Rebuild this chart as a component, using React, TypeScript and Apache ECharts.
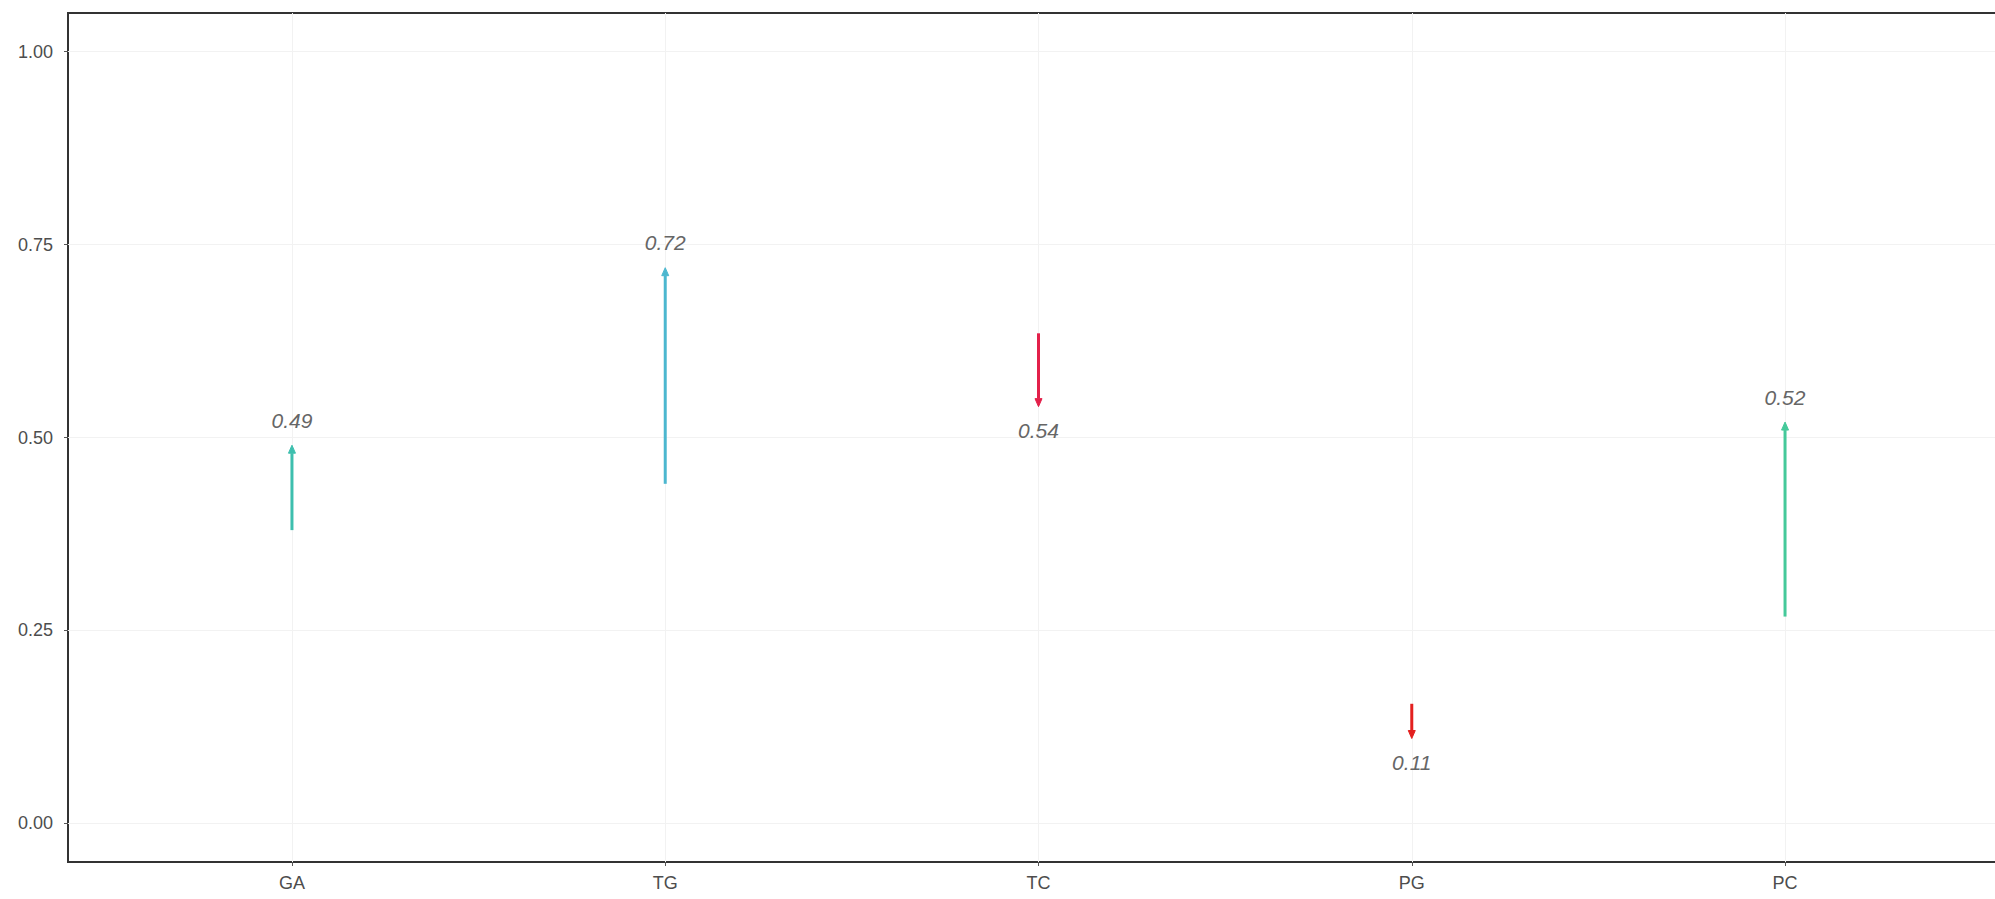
import React, { useEffect, useRef } from "react";
import * as echarts from "echarts";

const categories = ["GA", "TG", "TC", "PG", "PC"];
const startValues = [0.38, 0.44, 0.635, 0.155, 0.268];
const endValues = [0.49, 0.72, 0.54, 0.11, 0.52];
const arrowColors = ["#3dbfae", "#4cb7cf", "#e3204a", "#e3201f", "#45c99a"];
const yTicks = [0, 0.25, 0.5, 0.75, 1.0];
const xTicks = [1, 2, 3, 4, 5];

export default function App() {
  const ref = useRef<HTMLDivElement>(null);
  useEffect(() => {
    if (!ref.current) return;
    const chart = echarts.init(ref.current, undefined, { renderer: "svg" });
    const data = categories.map((c, i) => [i + 1, startValues[i], endValues[i], i]);
    chart.setOption({
      animation: false,
      backgroundColor: "#ffffff",
      grid: {
        left: 68,
        top: 13,
        bottom: 37,
        right: 0,
        show: true,
        borderColor: "#333333",
        borderWidth: 2,
        backgroundColor: "transparent",
      },
      xAxis: {
        type: "value",
        min: 0.4,
        max: 5.6,
        axisLine: { show: false, onZero: false },
        axisTick: { show: true, customValues: xTicks, length: 4, lineStyle: { color: "#555", width: 1 } },
        axisLabel: {
          customValues: xTicks,
          formatter: (v: number) => categories[Math.round(v) - 1] ?? "",
          color: "#4d4d4d",
          fontSize: 18,
          fontFamily: "Liberation Sans, Arial, sans-serif",
          margin: 12,
        },
        splitLine: { show: true, lineStyle: { color: "#f2f2f2", width: 1 } },
      },
      yAxis: {
        type: "value",
        min: -0.05,
        max: 1.05,
        axisLine: { show: false, onZero: false },
        axisTick: { show: true, customValues: yTicks, length: 4, lineStyle: { color: "#555", width: 1 } },
        axisLabel: {
          customValues: yTicks,
          formatter: (v: number) => v.toFixed(2),
          color: "#4d4d4d",
          fontSize: 18,
          fontFamily: "Liberation Sans, Arial, sans-serif",
          margin: 15,
        },
        splitLine: { show: true, lineStyle: { color: "#f2f2f2", width: 1 } },
      },
      series: [
        {
          type: "custom",
          coordinateSystem: "cartesian2d",
          data,
          encode: { x: 0, y: [1, 2] },
          renderItem: (params: any, api: any) => {
            const x = api.value(0);
            const s = api.value(1);
            const e = api.value(2);
            const idx = api.value(3);
            const color = arrowColors[idx];
            const p0 = api.coord([x, s]);
            const p1 = api.coord([x, e]);
            const up = e > s;
            const head = 8;
            const hw = 3.5;
            const baseY = up ? p1[1] + head : p1[1] - head;
            const labelY = up ? p1[1] - 25 : p1[1] + 24;
            return {
              type: "group",
              children: [
                {
                  type: "line",
                  shape: { x1: p0[0], y1: p0[1], x2: p1[0], y2: baseY },
                  style: { stroke: color, lineWidth: 3 },
                },
                {
                  type: "polygon",
                  shape: {
                    points: [
                      [p1[0], p1[1]],
                      [p1[0] - hw, baseY],
                      [p1[0] + hw, baseY],
                    ],
                  },
                  style: { fill: color, stroke: color, lineWidth: 1 },
                },
                {
                  type: "text",
                  x: p1[0],
                  y: labelY,
                  style: {
                    text: e.toFixed(2),
                    fill: "#666666",
                    fontSize: 21,
                    fontStyle: "italic",
                    fontFamily: "Liberation Sans, Arial, sans-serif",
                    align: "center",
                    verticalAlign: "middle",
                  },
                },
              ],
            };
          },
        },
      ],
    });
    return () => chart.dispose();
  }, []);
  return (
    <div style={{ position: "absolute", left: 0, top: 0, width: 1995, height: 899, overflow: "hidden" }}>
      <div ref={ref} style={{ width: 2009, height: 899 }} />
    </div>
  );
}
